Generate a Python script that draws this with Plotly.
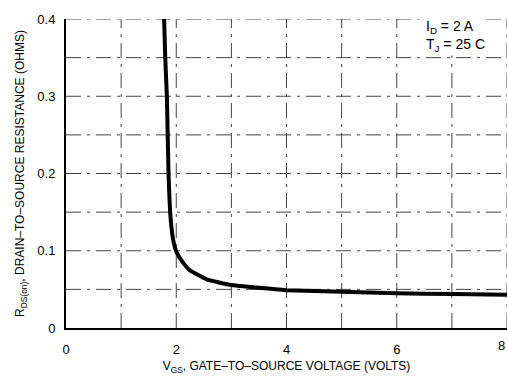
import plotly.graph_objects as go

vgs = [1.78, 1.80, 1.83, 1.86, 1.90, 1.95, 2.0, 2.1, 2.24, 2.55, 2.97, 3.5, 4.0, 5.0, 6.0, 7.0, 8.0]
rds = [0.40, 0.35, 0.30, 0.20, 0.14, 0.112, 0.099, 0.087, 0.075, 0.063, 0.056, 0.052, 0.049, 0.047, 0.045, 0.044, 0.043]

x_ticks = [0, 2, 4, 6]
x_last = 8
y_ticks = [0, 0.1, 0.2, 0.3, 0.4]
y_ticklabels = ["0", "0.1", "0.2", "0.3", "0.4"]

FONT = "Liberation Sans Narrow, Arial Narrow, Liberation Sans, Arial"

fig = go.Figure()
fig.add_trace(go.Scatter(x=vgs, y=rds, mode="lines", line=dict(color="black", width=4, shape="spline", smoothing=0.3),
                         showlegend=False, hoverinfo="skip"))

# grid (dash-dot)
for gx in range(1, 9):
    fig.add_shape(type="line", xref="x", yref="y", x0=gx, x1=gx, y0=0, y1=0.4,
                  line=dict(color="#444", width=1, dash="longdashdot"), layer="below")
for i in range(1, 9):
    gy = i * 0.05
    fig.add_shape(type="line", xref="x", yref="y", x0=0, x1=8, y0=gy, y1=gy,
                  line=dict(color="#444", width=1, dash="longdashdot"), layer="below")

fig.add_annotation(x=6.5, y=0.378, xref="x", yref="y", xanchor="left", yanchor="middle",
                   text="I<sub>D</sub> = 2 A<br>T<sub>J</sub> = 25 C", showarrow=False, align="left",
                   font=dict(family=FONT, size=14, color="black"), bgcolor="white")

# last x tick label sits on the page edge
fig.add_annotation(x=x_last, y=0, xref="x", yref="paper", yshift=-17, xanchor="right", yanchor="middle",
                   text=str(x_last), showarrow=False, font=dict(family=FONT, size=13, color="black"))

fig.update_layout(
    width=507, height=385,
    margin=dict(l=66, r=0, t=19, b=57),
    paper_bgcolor="white", plot_bgcolor="white",
    font=dict(family=FONT, size=13, color="black"),
    xaxis=dict(range=[0, 8], tickvals=x_ticks, ticktext=[str(v) for v in x_ticks], showgrid=False, zeroline=False,
               showline=True, linecolor="black", linewidth=2, ticks="", ticklabelstandoff=8,
               title=dict(text="V<sub>GS</sub>, GATE–TO–SOURCE VOLTAGE (VOLTS)", font=dict(size=12), standoff=6)),
    yaxis=dict(range=[0, 0.4], tickvals=y_ticks, ticktext=y_ticklabels, showgrid=False, zeroline=False,
               showline=True, linecolor="black", linewidth=2, ticks="", ticklabelstandoff=6,
               title=dict(text="R<sub>DS(on)</sub>, DRAIN–TO–SOURCE RESISTANCE (OHMS)", font=dict(size=12), standoff=10)),
)

fig.write_html("out.html")
